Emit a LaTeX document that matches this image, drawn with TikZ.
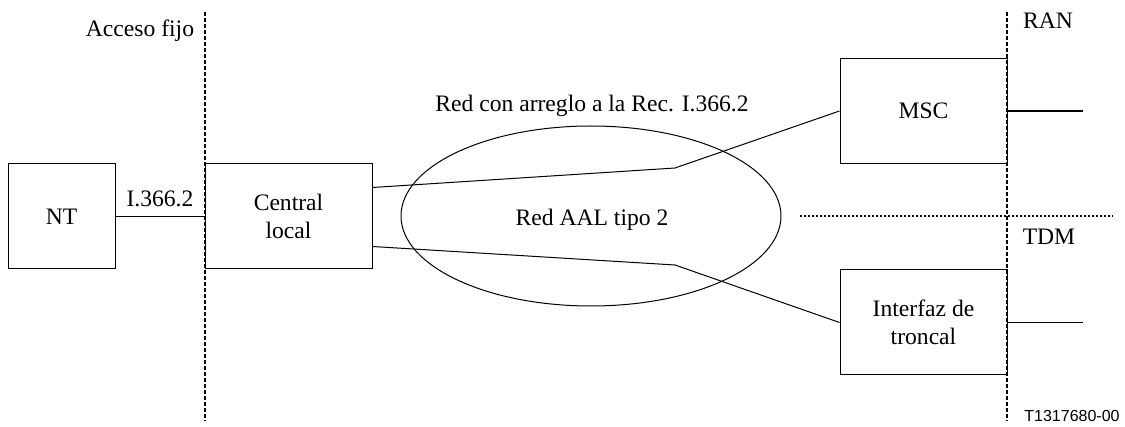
\documentclass[tikz,border=0pt]{standalone}
\usepackage{fontspec}
\setmainfont{Liberation Serif}
\newfontfamily\refsans{Liberation Sans}
\usetikzlibrary{shapes.geometric}

\begin{document}
\begin{tikzpicture}[x=0.5pt,y=0.5pt,yscale=-1,xscale=1,
	every node/.style={font=\fontsize{11.8}{14}\selectfont},
	box/.style={draw,line width=0.5pt,minimum width=83.5pt,minimum height=52.5pt,inner sep=0pt,align=center},
	link/.style={line width=0.5pt},
	thicklink/.style={line width=0.9pt},
	frontier/.style={line width=0.6pt,dash pattern=on 2pt off 1pt},
	split/.style={line width=0.6pt,dash pattern=on 1pt off 1pt}]
			\useasboundingbox (0,0) rectangle (1125,427);
			
			\draw[frontier] (205,12) -- (205,421);
			\draw[frontier] (1007,12) -- (1007,421);
			\draw[split] (800,216) -- (1113,216);
			
			\node[draw,ellipse,line width=0.5pt,minimum width=190pt,minimum height=90pt,inner sep=0pt] (aal) at (591,216) {};
			\node[anchor=base] (aaltext) at (592,226) {Red AAL tipo 2};
			\node[anchor=base] (redrec) at (592,112) {Red con arreglo a la Rec. I.366.2};
			
			\node[box,minimum width=53.5pt] (nt) at (61.5,216.5) {NT};
			\node[box] (local) at (288.5,216.5) {Central\\local};
			\node[box] (msc) at (923.5,111) {MSC};
			\node[box] (troncal) at (923.5,322.5) {Interfaz de\\troncal};
			
			\coordinate (bendup) at (675,168);
			\coordinate (benddown) at (675,265);
			\coordinate (ranend) at (1083,111);
			\coordinate (tdmend) at (1083,322.5);
			
			\draw[thicklink] (nt.east) -- (local.west);
			\draw[link] ([yshift=-14.5pt]local.east) -- (bendup) -- (msc.west);
			\draw[link] ([yshift=15pt]local.east) -- (benddown) -- (troncal.west);
			\draw[thicklink] (msc.east) -- (ranend);
			\draw[thicklink] (troncal.east) -- (tdmend);
			
			\node[anchor=base] (acceso) at (140,37) {Acceso fijo};
			\node[anchor=base] (iref) at (160,207) {I.366.2};
			\node[anchor=base] (ran) at (1048,29) {RAN};
			\node[anchor=base] (tdm) at (1049,245) {TDM};
			\node[anchor=base,font=\refsans\fontsize{8}{9}\selectfont] (figid) at (1072,422) {T1317680-00};
			\end{tikzpicture}
\end{document}
